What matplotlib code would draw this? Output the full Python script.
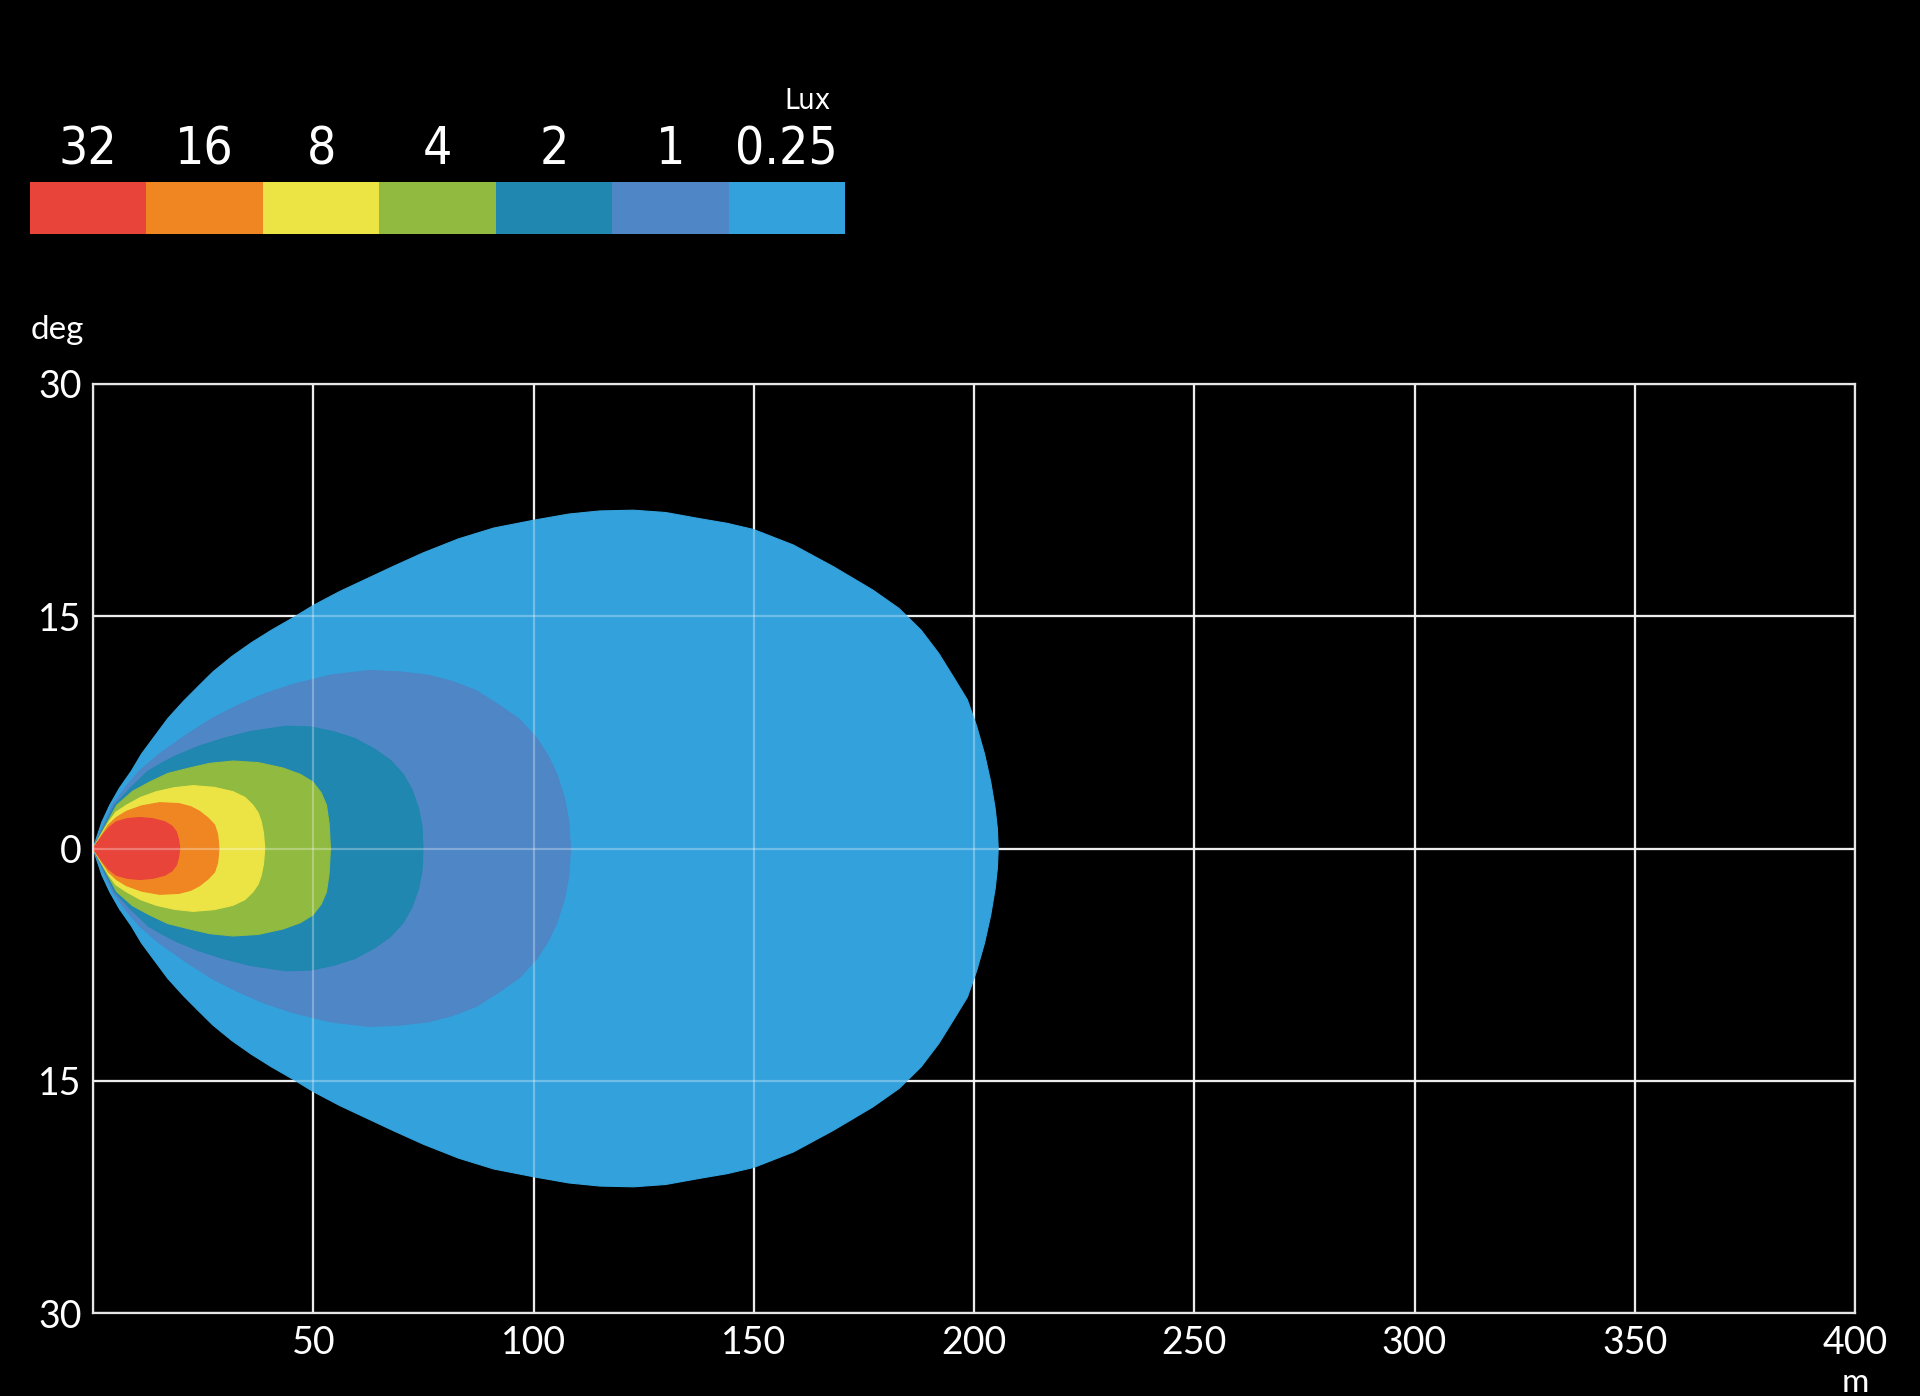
import numpy as np
import matplotlib.pyplot as plt

plt.rcParams['font.family'] = ['Lato', 'DejaVu Sans']

# legend classes (Lux)
lux_labels = ['32', '16', '8', '4', '2', '1', '0.25']
lux_colors = ['#e8443a', '#ef8621', '#ece445', '#90ba40', '#1f87b0', '#4e86c6', '#33a2dc']

# upper half of each isolux contour (x in m, y in deg)
x_025 = [0, 2.0, 3.8, 6.0, 8.7, 11.0, 13.6, 17.0, 20.5, 24.0, 27.2, 31.5, 36.0, 40.5,
         45.4, 50.0, 56.0, 62.0, 68.0, 75.0, 83.0, 91.0, 100.0, 108.0, 115.0, 122.7,
         130.0, 137.8, 144.0, 150.0, 159.0, 168.1, 177.0, 183.0, 188.0, 192.0, 195.5,
         198.5, 200.6, 202.4, 203.8, 204.8, 205.3, 205.5]
y_025 = [0, 1.7, 2.8, 3.9, 5.0, 6.1, 7.1, 8.4, 9.5, 10.5, 11.4, 12.4, 13.3, 14.1,
         14.9, 15.7, 16.6, 17.4, 18.2, 19.1, 20.0, 20.7, 21.2, 21.6, 21.8, 21.85,
         21.7, 21.3, 21.0, 20.6, 19.6, 18.2, 16.7, 15.5, 14.1, 12.6, 11.0,
         9.6, 7.9, 6.1, 4.3, 2.6, 1.3, 0]

x_1 = [0, 4.4, 7.5, 10.5, 15.0, 21.0, 27.0, 33.3, 39.0, 45.4, 54.0, 62.8, 70.0, 76.0,
       81.5, 87.0, 92.0, 97.0, 100.8, 103.3, 105.3, 107.0, 108.0, 108.4]
y_1 = [0, 2.8, 4.0, 5.0, 6.1, 7.3, 8.4, 9.3, 10.0, 10.6, 11.2, 11.5, 11.4, 11.2,
       10.8, 10.2, 9.3, 8.3, 7.1, 6.0, 4.8, 3.3, 1.8, 0]

x_2 = [0, 4.9, 8.5, 12.5, 15.5, 18.9, 24.0, 29.5, 35.6, 43.9, 49.5, 54.5, 59.5, 64.0,
       67.5, 70.4, 72.4, 73.9, 74.7, 74.9]
y_2 = [0, 2.8, 3.9, 5.0, 5.5, 6.0, 6.6, 7.1, 7.55, 7.9, 7.85, 7.55, 7.1, 6.4,
       5.7, 4.8, 3.8, 2.6, 1.4, 0]

x_4 = [0, 5.4, 9.0, 12.9, 17.0, 21.9, 26.5, 31.8, 37.5, 43.1, 47.0, 49.9, 51.8, 53.0,
       53.6, 53.9]
y_4 = [0, 2.8, 3.7, 4.3, 4.85, 5.2, 5.5, 5.65, 5.55, 5.2, 4.8, 4.3, 3.6, 2.8,
       1.6, 0]

x_8 = [0, 3.6, 5.2, 7.6, 10.8, 14.4, 18.5, 22.7, 27.5, 31.8, 34.5, 36.3, 37.5, 38.2,
       38.7, 39.0]
y_8 = [0, 1.73, 2.35, 2.8, 3.3, 3.67, 3.93, 4.06, 3.95, 3.67, 3.3, 2.8, 2.3, 1.73,
       1.0, 0]

x_16 = [0, 3.5, 5.3, 7.6, 11.0, 15.1, 19.5, 22.2, 24.2, 26.2, 27.6, 28.3, 28.6]
y_16 = [0, 1.52, 2.0, 2.4, 2.75, 2.96, 2.9, 2.7, 2.4, 1.95, 1.52, 0.9, 0]

x_32 = [0, 2.2, 3.6, 5.3, 7.8, 10.6, 13.5, 16.3, 17.9, 18.9, 19.4, 19.7]
y_32 = [0, 0.87, 1.35, 1.73, 1.93, 2.0, 1.93, 1.73, 1.45, 1.09, 0.6, 0]

x_ticks = [0, 50, 100, 150, 200, 250, 300, 350, 400]
x_tick_labels = ['', '50', '100', '150', '200', '250', '300', '350', '400']
y_ticks = [-30, -15, 0, 15, 30]
y_tick_labels = ['30', '15', '0', '15', '30']

grid_col = '#e6e6e6'

fig = plt.figure(figsize=(19.2, 13.96), dpi=100, facecolor='black')
ax = fig.add_axes([93 / 1920, 83 / 1396, 1762 / 1920, 929 / 1396])
ax.set_facecolor('black')

# largest first so smaller ones sit on top
contours = [(x_025, y_025, lux_colors[6]), (x_1, y_1, lux_colors[5]),
            (x_2, y_2, lux_colors[4]), (x_4, y_4, lux_colors[3]),
            (x_8, y_8, lux_colors[2]), (x_16, y_16, lux_colors[1]),
            (x_32, y_32, lux_colors[0])]
for xs, ys, c in contours:
    xs = np.array(xs)
    ys = np.array(ys)
    ax.fill(np.concatenate([xs, xs[::-1]]), np.concatenate([ys, -ys[::-1]]),
            color=c, lw=0.8, ec=c, joinstyle='round', zorder=2)

ax.set_xlim(0, 400)
ax.set_ylim(-30, 30)
ax.set_xticks(x_ticks)
ax.set_xticklabels(x_tick_labels)
ax.set_yticks(y_ticks)
ax.set_yticklabels(y_tick_labels)
ax.tick_params(length=0, colors='white', labelsize=27)
ax.tick_params(axis='x', pad=9)
ax.tick_params(axis='y', pad=8)

ax.set_axisbelow(True)
ax.grid(True, color=grid_col, lw=1.6)
# faint lines seen through the fills
for v in x_ticks[1:-1]:
    ax.axvline(v, color='white', alpha=0.3, lw=1.6, zorder=3)
for v in y_ticks[1:-1]:
    ax.axhline(v, color='white', alpha=0.3, lw=1.6, zorder=3)

for s in ax.spines.values():
    s.set_color(grid_col)
    s.set_linewidth(1.6)
    s.set_zorder(4)

fig.text(31 / 1920, 1 - 339 / 1396, 'deg', color='white', fontsize=24,
         ha='left', va='baseline')
fig.text(1855 / 1920, 1 - 1392 / 1396, 'm', color='white', fontsize=24,
         ha='center', va='baseline')

# colour key
ax_leg = fig.add_axes([30 / 1920, 1 - 234 / 1396, 815 / 1920, 52 / 1396])
ax_leg.bar(range(len(lux_labels)), [1] * len(lux_labels), width=1.0,
           color=lux_colors, lw=0)
ax_leg.set_xlim(-0.5, len(lux_labels) - 0.5)
ax_leg.set_ylim(0, 1)
ax_leg.axis('off')
for i, lab in enumerate(lux_labels):
    ax_leg.text(i, 1.34, lab, ha='center', va='baseline', color='white',
                fontsize=37, family=['DejaVu Sans'], fontstretch='condensed',
                clip_on=False)
fig.text(831 / 1920, 1 - 109 / 1396, 'Lux', color='white', fontsize=21,
         ha='right', va='baseline', family=['DejaVu Sans'], fontstretch='condensed')

fig.savefig('out.png', dpi=100, facecolor='black')
